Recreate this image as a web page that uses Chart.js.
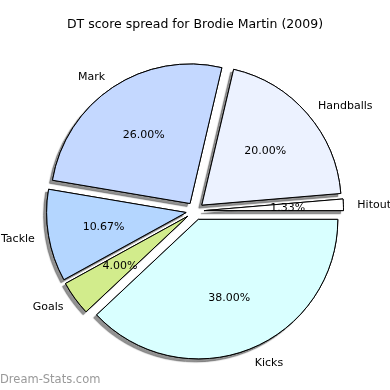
<!DOCTYPE html>
<html>
<head>
<meta charset="utf-8">
<script src="https://cdn.jsdelivr.net/npm/chart.js@4/dist/chart.umd.min.js"></script>
<style>
  html, body { margin: 0; padding: 0; background: #fff; }
  #wrap { width: 390px; height: 390px; position: relative; }
</style>
</head>
<body>
<div id="wrap"><canvas id="grafico" width="390" height="390"></canvas></div>
<script>
// dados (ordem horária a partir das 3 horas)
const categorias = ['Kicks', 'Goals', 'Tackle', 'Mark', 'Handballs', 'Hitout'];
const pontos = [57, 6, 16, 39, 30, 2];
const cores = ['#d9ffff', '#d2ec8c', '#b4d6ff', '#c4d8ff', '#ecf2ff', '#ffffff'];

const FONTE = '"DejaVu Sans", sans-serif';
const EXPLODE = 9;

function deslocamento(arc) {
  const meio = (arc.startAngle + arc.endAngle) / 2;
  return { c: Math.cos(meio), s: Math.sin(meio) };
}

// desenha fatias explodidas com sombra, depois os rótulos
const pizzaExplodida = {
  id: 'pizzaExplodida',
  beforeDatasetDraw(chart, args) {
    const ctx = chart.ctx;
    const meta = args.meta;
    // 1a passada: sombras
    meta.data.forEach(arc => {
      const d = deslocamento(arc);
      ctx.save();
      ctx.translate(d.c * EXPLODE, d.s * EXPLODE);
      ctx.shadowColor = 'rgba(40,40,40,0.5)';
      ctx.shadowBlur = 1;
      ctx.shadowOffsetX = -3;
      ctx.shadowOffsetY = 3;
      arc.draw(ctx);
      ctx.restore();
    });
    // 2a passada: fatias limpas por cima
    meta.data.forEach(arc => {
      const d = deslocamento(arc);
      ctx.save();
      ctx.translate(d.c * EXPLODE, d.s * EXPLODE);
      arc.draw(ctx);
      ctx.restore();
    });
    return false;
  },
  afterDatasetsDraw(chart) {
    const ctx = chart.ctx;
    const meta = chart.getDatasetMeta(0);
    const total = pontos.reduce((a, b) => a + b, 0);
    ctx.save();
    ctx.font = '11px ' + FONTE;
    ctx.fillStyle = '#000';
    ctx.textBaseline = 'middle';
    meta.data.forEach((arc, i) => {
      const d = deslocamento(arc);
      const R = arc.outerRadius;
      const bx = arc.x + d.c * EXPLODE;
      const by = arc.y + d.s * EXPLODE + 1;
      // nome
      ctx.textAlign = d.c >= 0 ? 'left' : 'right';
      ctx.fillText(categorias[i], bx + d.c * R * 1.1, by + d.s * R * 1.1);
      // percentual
      ctx.textAlign = 'center';
      const pct = (pontos[i] / total * 100).toFixed(2) + '%';
      ctx.fillText(pct, bx + d.c * R * 0.6, by + d.s * R * 0.6);
    });
    // título
    ctx.font = '12.5px ' + FONTE;
    ctx.textAlign = 'center';
    ctx.fillText('DT score spread for Brodie Martin (2009)', 195, 25);
    // marca d'água
    ctx.font = '11.5px ' + FONTE;
    ctx.textAlign = 'left';
    ctx.fillStyle = '#999999';
    ctx.fillText('Dream-Stats.com', 0, 380);
    ctx.restore();
  }
};

new Chart(document.getElementById('grafico'), {
  type: 'pie',
  data: {
    labels: categorias,
    datasets: [{
      data: pontos,
      backgroundColor: cores,
      borderColor: '#000',
      borderWidth: 1,
      offset: 0
    }]
  },
  options: {
    responsive: false,
    animation: false,
    rotation: 90,
    radius: 139.5,
    layout: { padding: { top: 32, bottom: 0, left: 0, right: 0 } },
    plugins: {
      legend: { display: false },
      tooltip: { enabled: false }
    }
  },
  plugins: [pizzaExplodida]
});
</script>
</body>
</html>
